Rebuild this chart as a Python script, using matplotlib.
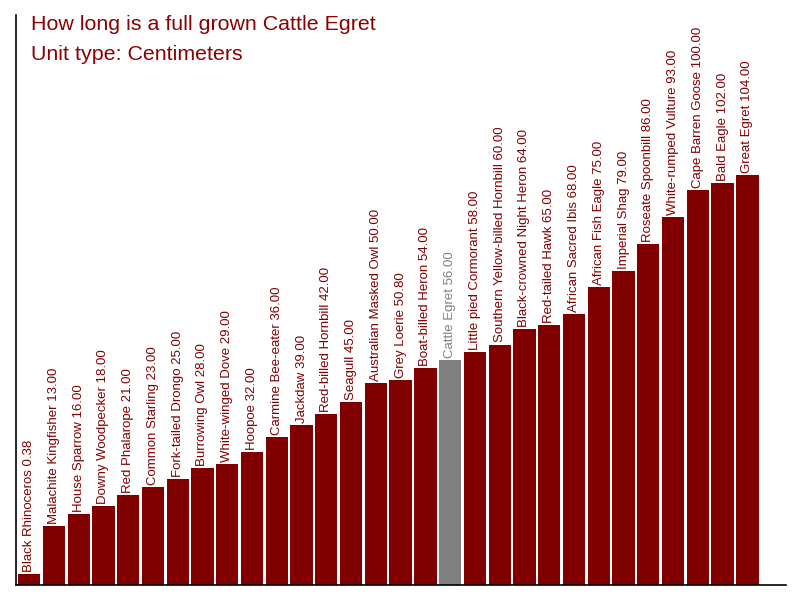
import matplotlib
matplotlib.use("Agg")
import matplotlib.pyplot as plt
import numpy as np

plt.rcParams['font.family'] = ['Liberation Sans', 'DejaVu Sans']

birds = ["Black Rhinoceros", "Malachite Kingfisher", "House Sparrow", "Downy Woodpecker",
         "Red Phalarope", "Common Starling", "Fork-tailed Drongo", "Burrowing Owl",
         "White-winged Dove", "Hoopoe", "Carmine Bee-eater", "Jackdaw",
         "Red-billed Hornbill", "Seagull", "Australian Masked Owl", "Grey Loerie",
         "Boat-billed Heron", "Cattle Egret", "Little pied Cormorant",
         "Southern Yellow-billed Hornbill", "Black-crowned Night Heron", "Red-tailed Hawk",
         "African Sacred Ibis", "African Fish Eagle", "Imperial Shag", "Roseate Spoonbill",
         "White-rumped Vulture", "Cape Barren Goose", "Bald Eagle", "Great Egret"]
lengths = [0.38, 13.00, 16.00, 18.00, 21.00, 23.00, 25.00, 28.00, 29.00, 32.00, 36.00,
           39.00, 42.00, 45.00, 50.00, 50.80, 54.00, 56.00, 58.00, 60.00, 64.00, 65.00,
           68.00, 75.00, 79.00, 86.00, 93.00, 100.00, 102.00, 104.00]
highlight = "Cattle Egret"

title_lines = ["How long is a full grown Cattle Egret", "Unit type: Centimeters"]

maroon = "#800000"
grey = "#808080"

fig = plt.figure(figsize=(8, 6), dpi=100)
ax = fig.add_axes([0.02, 0.025, 0.9625, 0.95])

ymin, ymax = -2.4, 145.5
x = np.arange(len(birds))
vals = np.array(lengths)
colors = [grey if b == highlight else maroon for b in birds]
ax.bar(x, vals - ymin, bottom=ymin, width=0.9, color=colors)

for xi, b, v, c in zip(x, birds, vals, colors):
    top = max(v, ymin + 2.6)
    ax.annotate(f"{b} {v:.2f}", xy=(xi, top),
                xytext=(0, 1.5), textcoords="offset points",
                rotation=90, ha="center", va="bottom", fontsize=9.5, color=c)

ax.set_xlim(-0.53, 30.56)
ax.set_ylim(ymin, ymax)
ax.set_xticks([])
ax.set_yticks([])
for s in ["top", "right"]:
    ax.spines[s].set_visible(False)
ax.spines["left"].set_linewidth(1.2)
ax.spines["bottom"].set_linewidth(1.2)

fig.text(31 / 800, 1 - 29.5 / 600, title_lines[0], fontsize=15.4, color="#8B0000",
         ha="left", va="baseline")
fig.text(31 / 800, 1 - 59.5 / 600, title_lines[1], fontsize=15.4, color="#8B0000",
         ha="left", va="baseline")

fig.savefig("out.png", dpi=100)
